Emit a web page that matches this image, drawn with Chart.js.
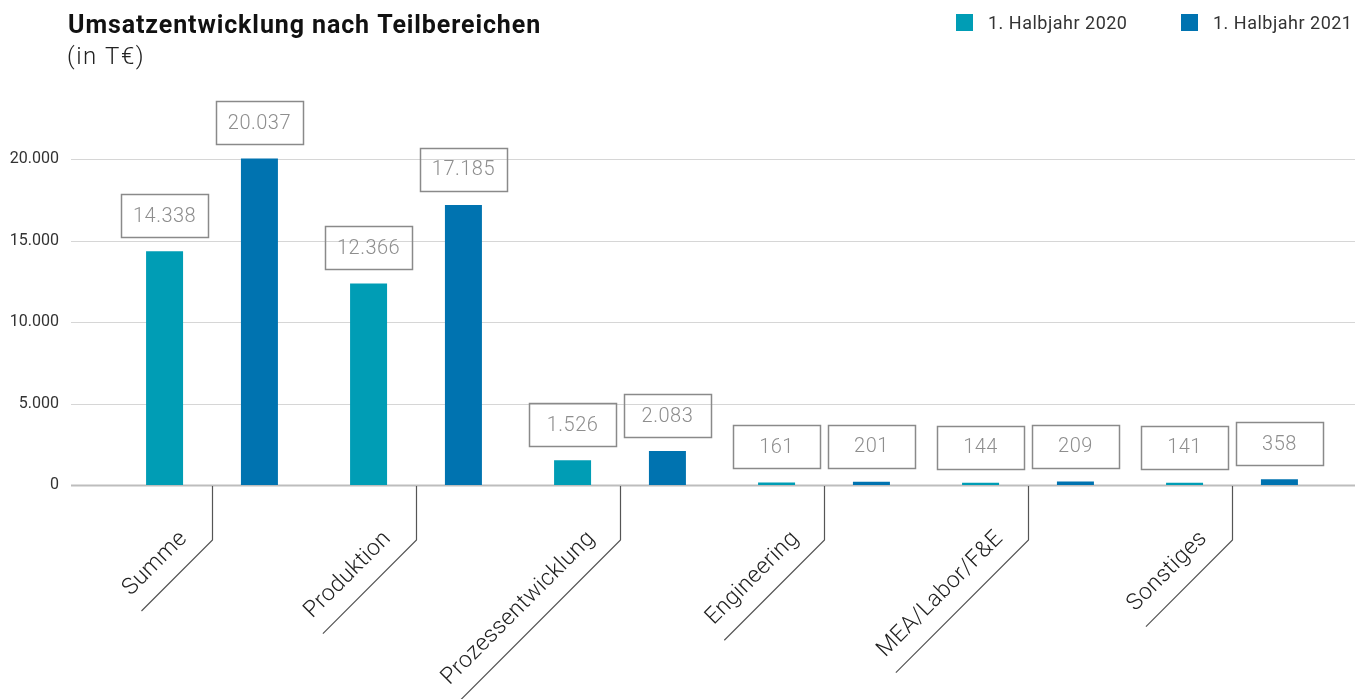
<!DOCTYPE html>
<html lang="de">
<head>
<meta charset="utf-8">
<title>Umsatzentwicklung nach Teilbereichen</title>
<script src="https://cdn.jsdelivr.net/npm/chart.js@4.4.1/dist/chart.umd.min.js"></script>
<style>
  html, body { margin: 0; padding: 0; background: #fff; }
  #wrap { position: relative; width: 1367px; height: 699px; }
</style>
</head>
<body>
<div id="wrap"><canvas id="myChart"></canvas></div>
<script>
// values (in T€)
const categories = ['Summe', 'Produktion', 'Prozessentwicklung', 'Engineering', 'MEA/Labor/F&E', 'Sonstiges'];
const halbjahr2020 = [14338, 12366, 1526, 161, 144, 141];
const halbjahr2021 = [20037, 17185, 2083, 201, 209, 358];
const seriesLabels = ['1. Halbjahr 2020', '1. Halbjahr 2021'];
const yTicks = [0, 5000, 10000, 15000, 20000];

const chart_title = 'Umsatzentwicklung nach Teilbereichen';
const chart_subtitle = '(in T€)';
const colors = ['#009db5', '#0073b0'];

function fmt(v) {
    return String(v).replace(/\B(?=(\d{3})+(?!\d))/g, '.');
}

// gridlines run a bit wider than the bar area
const gridPlugin = {
    id: 'gridLines',
    beforeDatasetsDraw(chart) {
        const ctx = chart.ctx;
        const y = chart.scales.y;
        ctx.save();
        yTicks.forEach(function(t) {
            const py = Math.round(y.getPixelForValue(t)) + 0.5;
            ctx.beginPath();
            ctx.strokeStyle = t === 0 ? '#bdbdbd' : '#d6d6d6';
            ctx.lineWidth = t === 0 ? 2 : 1;
            ctx.moveTo(71, py);
            ctx.lineTo(1355, py);
            ctx.stroke();
        });
        ctx.restore();
    }
};

// boxed value labels above the bars
const valueBoxes = {
    id: 'valueBoxes',
    afterDatasetsDraw(chart) {
        const ctx = chart.ctx;
        ctx.save();
        ctx.font = '300 20px Roboto';
        ctx.letterSpacing = '0.5px';
        ctx.textAlign = 'center';
        ctx.textBaseline = 'middle';
        chart.data.datasets.forEach(function(ds, di) {
            chart.getDatasetMeta(di).data.forEach(function(bar, i) {
                const w = 87, h = 43;
                const bottom = bar.y - 14;
                ctx.strokeStyle = '#8a8a8a';
                ctx.lineWidth = 1.5;
                ctx.strokeRect(Math.round(bar.x - w / 2) + 0.5, Math.round(bottom - h) + 0.5, w, h);
                ctx.fillStyle = '#8e8e8e';
                ctx.fillText(fmt(ds.data[i]), bar.x, bottom - h / 2 + 1);
            });
        });
        ctx.restore();
    }
};

// title, legend and the angled category labels
const decorations = {
    id: 'decorations',
    afterDraw(chart) {
        const ctx = chart.ctx;
        ctx.save();
        ctx.textAlign = 'left';
        ctx.textBaseline = 'alphabetic';
        ctx.fillStyle = '#111';
        ctx.font = 'bold 25px Roboto';
        ctx.letterSpacing = '0.9px';
        ctx.fillText(chart_title, 68, 33);
        ctx.fillStyle = '#222';
        ctx.font = '300 24px Roboto';
        ctx.letterSpacing = '1.5px';
        ctx.fillText(chart_subtitle, 67, 64);

        // legend
        const legendX = [956, 1181];
        ctx.font = '18px Roboto';
        ctx.letterSpacing = '0.5px';
        ctx.textBaseline = 'middle';
        chart.data.datasets.forEach(function(ds, i) {
            ctx.fillStyle = ds.backgroundColor;
            ctx.fillRect(legendX[i], 14, 17, 17);
            ctx.fillStyle = '#333';
            ctx.fillText(ds.label, legendX[i] + 32, 24);
        });

        // category labels with bracket lines
        const x = chart.scales.x;
        const y0 = chart.scales.y.getPixelForValue(0);
        ctx.font = '300 23px Roboto';
        ctx.letterSpacing = '0.3px';
        categories.forEach(function(cat, i) {
            const cx = Math.round(x.getPixelForValue(i)) + 0.5;
            const cy = 540;
            const tw = ctx.measureText(cat).width;
            const len = tw + 20;
            ctx.strokeStyle = '#555';
            ctx.lineWidth = 1.2;
            ctx.beginPath();
            ctx.moveTo(cx, y0 + 1);
            ctx.lineTo(cx, cy);
            ctx.lineTo(cx - len / Math.SQRT2, cy + len / Math.SQRT2);
            ctx.stroke();
            ctx.save();
            ctx.translate(cx, cy);
            ctx.rotate(-Math.PI / 4);
            ctx.fillStyle = '#222';
            ctx.textAlign = 'right';
            ctx.textBaseline = 'alphabetic';
            ctx.fillText(cat, -17, -18);
            ctx.restore();
        });
        ctx.restore();
    }
};

function draw_chart() {
    const ctx = document.getElementById('myChart');
    new Chart(ctx, {
        type: 'bar',
        data: {
            labels: categories,
            datasets: [{
                label: seriesLabels[0],
                data: halbjahr2020,
                backgroundColor: colors[0],
                clip: false
            }, {
                label: seriesLabels[1],
                data: halbjahr2021,
                backgroundColor: colors[1],
                clip: false
            }]
        },
        options: {
            responsive: true,
            maintainAspectRatio: false,
            animation: false,
            categoryPercentage: 0.93,
            barPercentage: 0.39,
            layout: {
                padding: { left: 0, right: 33, top: 159, bottom: 214 }
            },
            plugins: {
                legend: { display: false },
                title: { display: false },
                tooltip: { enabled: false }
            },
            scales: {
                x: {
                    display: false
                },
                y: {
                    min: 0,
                    max: 20000,
                    border: { display: false },
                    grid: { display: false, drawTicks: false },
                    afterBuildTicks: function(scale) {
                        scale.ticks = yTicks.map(v => ({ value: v }));
                    },
                    afterFit: function(scale) {
                        scale.width = 110;
                    },
                    ticks: {
                        padding: 51,
                        color: '#333',
                        font: { family: 'Roboto', size: 16 },
                        callback: function(value) {
                            return fmt(value);
                        }
                    }
                }
            }
        },
        plugins: [gridPlugin, valueBoxes, decorations]
    });
}
draw_chart();
</script>
</body>
</html>
